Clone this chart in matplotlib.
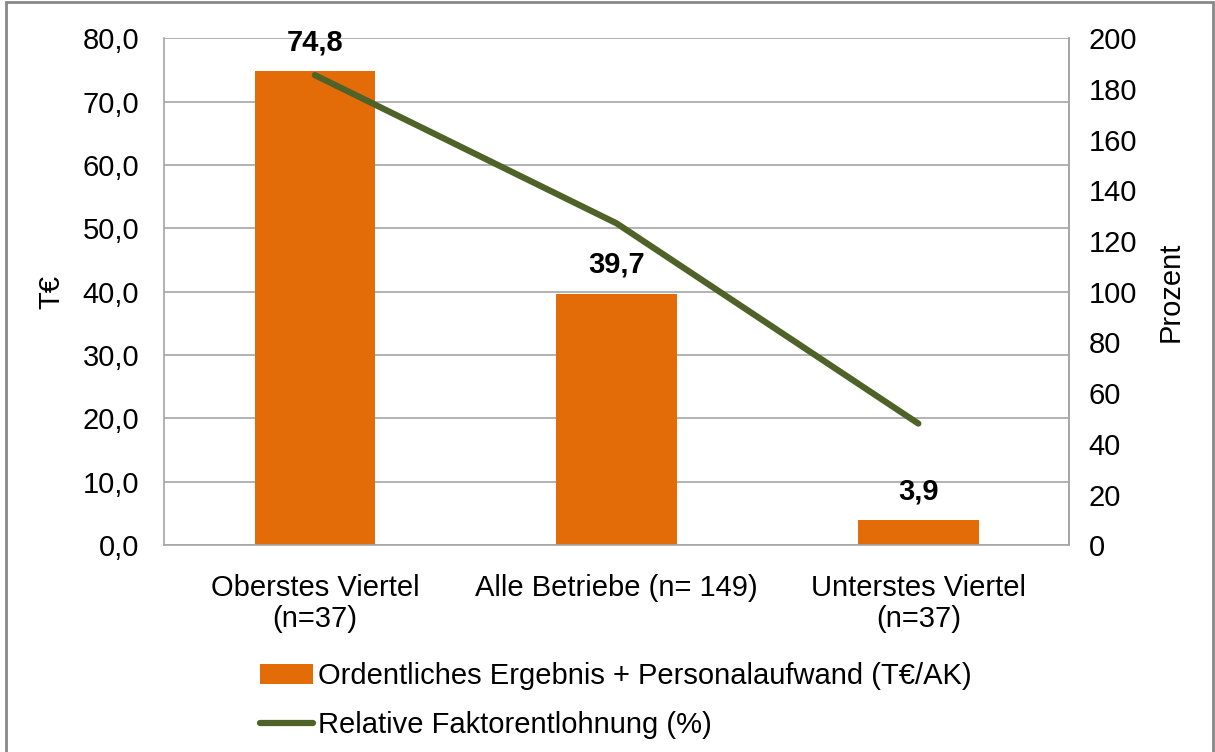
import matplotlib.pyplot as plt
from matplotlib.patches import Rectangle, Patch
from matplotlib.lines import Line2D

plt.rcParams['font.family'] = ['Liberation Sans', 'DejaVu Sans']

categories = ['Oberstes Viertel\n(n=37)', 'Alle Betriebe (n= 149)', 'Unterstes Viertel\n(n=37)']
ergebnis = [74.8, 39.7, 3.9]          # T€/AK
faktorentlohnung = [185.5, 127, 48]   # %

bar_color = '#E36C09'
line_color = '#4F6228'
grid_color = '#A6A6A6'

fig = plt.figure(figsize=(12.15, 7.52), dpi=100)
ax = fig.add_axes([0.135, 0.275, 0.745, 0.674])
x = range(len(categories))

ax.bar(x, ergebnis, width=0.4, color=bar_color, zorder=2)
for xi, v in zip(x, ergebnis):
    ax.text(xi, v + 2.4, f'{v:.1f}'.replace('.', ','), ha='center', va='bottom',
            fontsize=21, fontweight='bold')

ax.set_xlim(-0.5, 2.5)
ax.set_ylim(0, 80)
ax.set_yticks(range(0, 81, 10))
ax.set_yticklabels([f'{t:.1f}'.replace('.', ',') for t in range(0, 81, 10)])
ax.set_xticks(list(x))
ax.set_xticklabels(categories, linespacing=1.12)
ax.yaxis.grid(True, color=grid_color, linewidth=1.2, zorder=0)
ax.set_axisbelow(True)
ax.tick_params(axis='y', length=0, labelsize=21, pad=18)
ax.tick_params(axis='x', length=0, labelsize=21, pad=21)
ax.set_ylabel('T€', fontsize=21, labelpad=12)
for s in ax.spines.values():
    s.set_color(grid_color)
    s.set_linewidth(1.2)
ax.spines['top'].set_visible(False)

ax2 = ax.twinx()
ax2.plot(x, faktorentlohnung, color=line_color, linewidth=4.5, solid_capstyle='round', zorder=3)
ax2.set_ylim(0, 200)
ax2.set_yticks(range(0, 201, 20))
ax2.tick_params(axis='y', length=0, labelsize=21, pad=14)
ax2.set_ylabel('Prozent', fontsize=21, labelpad=14)
for s in ax2.spines.values():
    s.set_visible(False)
ax2.spines['right'].set_visible(True)
ax2.spines['right'].set_color(grid_color)
ax2.spines['right'].set_linewidth(1.2)

handles = [Patch(facecolor=bar_color, edgecolor='none'),
           Line2D([0], [0], color=line_color, linewidth=4.5, solid_capstyle='round')]
labels = ['Ordentliches Ergebnis + Personalaufwand (T€/AK)', 'Relative Faktorentlohnung (%)']
fig.legend(handles, labels, loc='upper left', bbox_to_anchor=(0.202, 0.139),
           frameon=False, fontsize=21, handlelength=1.8, handleheight=0.7,
           handletextpad=0.2, labelspacing=0.72, borderpad=0)

fig.patches.append(Rectangle((0.005, -0.01), 0.993, 1.008, transform=fig.transFigure,
                             fill=False, edgecolor='#888888', linewidth=2))

fig.savefig('out.png', dpi=100)
